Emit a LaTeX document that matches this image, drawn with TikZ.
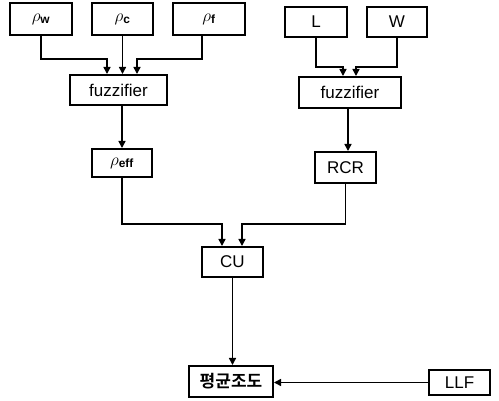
\documentclass[tikz,border=0pt]{standalone}
\usepackage{fontspec}
\setmainfont{Liberation Sans}
\newfontfamily\kr{Noto Sans CJK KR}[BoldFont={Noto Sans CJK KR Bold}]
\usetikzlibrary{arrows.meta}
\begin{document}
\begin{tikzpicture}[x=1pt,y=-1pt,
  box/.style={draw,line width=2pt,rectangle,inner sep=0pt,font=\fontsize{17}{20}\selectfont},
  arr/.style={line width=1.6pt,-{Triangle[length=7pt,width=7pt]}}]
\useasboundingbox (0,0) rectangle (499,401);
\node[box,minimum width=62pt,minimum height=32pt] (w) at (41,19) {$\rho_{\mathbf{w}}$};
\node[box,minimum width=61pt,minimum height=32pt] (c) at (122.5,19) {$\rho_{\mathbf{c}}$};
\node[box,minimum width=72pt,minimum height=32pt] (f) at (209,19) {$\rho_{\mathbf{f}}$};
\node[box,minimum width=97pt,minimum height=30pt] (fz1) at (118.5,90) {fuzzifier};
\node[box,minimum width=60pt,minimum height=28pt] (e) at (122,163) {$\rho_{\mathbf{eff}}$};
\node[box,minimum width=62pt,minimum height=30pt] (L) at (316,22) {L};
\node[box,minimum width=60pt,minimum height=30pt] (W) at (397,22) {W};
\node[box,minimum width=102pt,minimum height=31pt] (fz2) at (350,92.5) {fuzzifier};
\node[box,minimum width=61pt,minimum height=31pt] (R) at (345.5,167.5) {RCR};
\node[box,minimum width=61pt,minimum height=30pt] (cu) at (232.5,262) {CU};
\node[box,minimum width=84pt,minimum height=31pt] (avg) at (231,381.5) {\kr\bfseries 평균조도};
\node[box,minimum width=61pt,minimum height=25pt] (llf) at (459.5,382.5) {LLF};
% top-left
\draw[arr] (w.south) |- ([xshift=-11.5pt,yshift=15pt]fz1.north) -- ([xshift=-11.5pt]fz1.north);
\draw[arr] (c.south) -- (c.south |- fz1.north);
\draw[arr] ([xshift=-7pt]f.south) |- ([xshift=18.5pt,yshift=15pt]fz1.north) -- ([xshift=18.5pt]fz1.north);
\draw[arr] (e.north |- fz1.south) -- (e.north);
% top-right
\draw[arr] (L.south) |- ([xshift=-7pt,yshift=9pt]fz2.north) -- ([xshift=-7pt]fz2.north);
\draw[arr] (W.south) |- ([xshift=6pt,yshift=9pt]fz2.north) -- ([xshift=6pt]fz2.north);
\draw[arr] ([xshift=-2pt]fz2.south) -- ([xshift=-2pt]fz2.south |- R.north);
% to CU
\draw[arr] (e.south) |- ([xshift=-10.5pt,yshift=22pt]cu.north) -- ([xshift=-10.5pt]cu.north);
\draw[arr] (R.south) |- ([xshift=9.5pt,yshift=22pt]cu.north) -- ([xshift=9.5pt]cu.north);
% bottom
\draw[arr] (cu.south) -- (cu.south |- avg.north);
\draw[arr] (llf.west) -- (avg.east |- llf.west);
\end{tikzpicture}
\end{document}
